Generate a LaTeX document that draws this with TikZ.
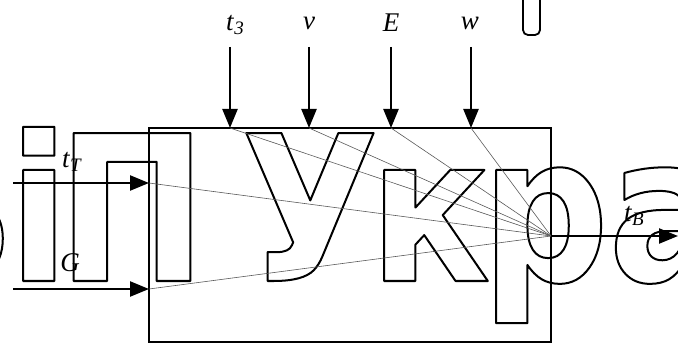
\documentclass[tikz,border=0pt]{standalone}
\usepackage{fontspec}
\setmainfont{Liberation Serif}
\newfontfamily\wmfont{DejaVu Sans Bold}[FakeStretch=0.88]
\usetikzlibrary{arrows.meta}
\newcommand{\lbl}[2]{\textit{#1}\raisebox{-0.35ex}{\fontsize{19}{19}\selectfont\textit{#2}}}
\newcommand{\outl}[1]{\special{pdf:literal direct 1 Tr 2 w 1 j}#1\special{pdf:literal direct 0 Tr}}
\begin{document}
\begin{tikzpicture}[x=1pt,y=-1pt,
  arr/.style={line width=2.4pt,-{Triangle[length=19pt,width=15pt]}},
  fan/.style={line width=0.6pt,gray!70!black},
  lab/.style={inner sep=0pt,font=\fontsize{27}{27}\selectfont},
  wm/.style={inner sep=0pt,anchor=base west,font=\wmfont\fontsize{203}{203}\selectfont}]
\useasboundingbox (0,0) rectangle (678,345);
% watermark
\node[wm] (wB) at (-121,281) {\outl{В}};
\node[wm] (wi) at (8,281) {\outl{і}};
\node[wm] (wP) at (57,281) {\outl{П}};
\node[wm] (wU) at (241,281) {\outl{У}};
\node[wm] (wk) at (369,281) {\outl{к}};
\node[wm] (wr) at (481,281) {\outl{р}};
\node[wm] (wa) at (608,281) {\outl{а}};
\draw[line width=1.8pt,rounded corners=5pt] (523,0) -- (523,35) -- (540,35) -- (540,0);
% box
\node[draw,line width=2.4pt,minimum width=402,minimum height=214,inner sep=0] (box) at (350,235) {};
% inputs
\coordinate (pt3) at (230,128);
\coordinate (pv) at (309,128);
\coordinate (pE) at (391,128);
\coordinate (pw) at (471,128);
\coordinate (ptT) at (149,183);
\coordinate (pG) at (149,289);
\coordinate (out) at (551,236);
\coordinate (st3) at (230,47);
\coordinate (sv) at (309,47);
\coordinate (sE) at (391,47);
\coordinate (sw) at (471,47);
\coordinate (stT) at (13,183);
\coordinate (sG) at (13,289);
\coordinate (eB) at (678,236);
\node[lab] (lt3) at (235,25) {\lbl{t}{3}};
\node[lab] (lv) at (309,23) {\textit{v}};
\node[lab] (lE) at (391,23) {\textit{E}};
\node[lab] (lw) at (470,23) {\textit{w}};
\node[lab] (ltT) at (72,162) {\lbl{t}{T}};
\node[lab] (lG) at (70,263) {\textit{G}};
\node[lab] (ltB) at (634,216) {\lbl{t}{B}};
\foreach \p in {pt3,pv,pE,pw,ptT,pG} \draw[fan] (\p) -- (out);
\draw[arr] (st3) -- (pt3);
\draw[arr] (sv) -- (pv);
\draw[arr] (sE) -- (pE);
\draw[arr] (sw) -- (pw);
\draw[arr] (stT) -- (ptT);
\draw[arr] (sG) -- (pG);
\draw[arr] (out) -- (eB);
\end{tikzpicture}
\end{document}
